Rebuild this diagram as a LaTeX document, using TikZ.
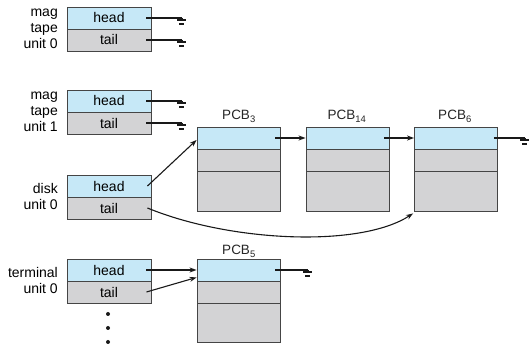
\documentclass[tikz,border=0pt]{standalone}
\usepackage{fontspec}
\setmainfont{Liberation Sans}
\usetikzlibrary{arrows.meta}
\definecolor{hblue}{HTML}{C6E8F7}
\definecolor{bgray}{HTML}{D3D3D5}
\definecolor{edgec}{HTML}{454545}
\begin{document}
\begin{tikzpicture}[x=1pt,y=-1pt,
  cell/.style={draw=edgec, line width=0.9pt, minimum width=84pt, minimum height=22pt, inner sep=0pt, font=\fontsize{14}{16}\selectfont},
  headc/.style={cell, fill=hblue},
  grayc/.style={cell, fill=bgray},
  pcell/.style={draw=edgec, line width=0.9pt, minimum width=83pt, inner sep=0pt},
  lbl/.style={anchor=east, align=right, inner sep=0pt, font=\fontsize{14}{16}\selectfont},
  wire/.style={line width=1.1pt, black!90},
  ptr/.style={wire, -{Stealth[length=7pt,width=5pt]}},
  gnd/.pic={\draw[line width=1.1pt, black!90] (0,0) -- (0,2) (-5,2) -- (4,2) (-3,6) -- (2,6);},
  pcbl/.style={anchor=base, inner sep=0pt, font=\fontsize{13.5}{15}\selectfont, text=black!85}
]
\useasboundingbox (0,0) rectangle (530,344);

% device queues
\node[headc] (t0h) at (109,18) {head};
\node[grayc] (t0t) at (109,40) {tail};
\node[headc] (t1h) at (109,101) {head};
\node[grayc] (t1t) at (109,123) {tail};
\node[headc] (dh) at (109,186) {head};
\node[grayc] (dt) at (109,208) {tail};
\node[headc] (th) at (109,270) {head};
\node[grayc] (tt) at (109,292) {tail};

\node[lbl] (l0) at (58,29) {mag\\tape\\unit 0};
\node[lbl] (l1) at (58,112) {mag\\tape\\unit 1};
\node[lbl] (l2) at (58,196.5) {disk\\unit 0};
\node[lbl] (l3) at (58,280.5) {terminal\\unit 0};

% PCBs
\node[pcell, fill=hblue, minimum height=22pt] (p3a) at (238.5,138) {};
\node[pcell, fill=bgray, minimum height=22pt] (p3b) at (238.5,160) {};
\node[pcell, fill=bgray, minimum height=40pt] (p3c) at (238.5,191) {};
\node[pcell, fill=hblue, minimum height=22pt] (p14a) at (347.5,138) {};
\node[pcell, fill=bgray, minimum height=22pt] (p14b) at (347.5,160) {};
\node[pcell, fill=bgray, minimum height=40pt] (p14c) at (347.5,191) {};
\node[pcell, fill=hblue, minimum height=22pt] (p6a) at (456,138) {};
\node[pcell, fill=bgray, minimum height=22pt] (p6b) at (456,160) {};
\node[pcell, fill=bgray, minimum height=40pt] (p6c) at (456,191) {};
\node[pcell, fill=hblue, minimum height=22pt] (p5a) at (238.5,270) {};
\node[pcell, fill=bgray, minimum height=22pt] (p5b) at (238.5,292) {};
\node[pcell, fill=bgray, minimum height=39pt] (p5c) at (238.5,322.5) {};

\node[pcbl] (n3) at (239,120) {PCB\textsubscript{3}};
\node[pcbl] (n14) at (347,120) {PCB\textsubscript{14}};
\node[pcbl] (n6) at (455,120) {PCB\textsubscript{6}};
\node[pcbl] (n5) at (239,255) {PCB\textsubscript{5}};

% ground ends
\coordinate (g0h) at (182,18);
\coordinate (g0t) at (182,40);
\coordinate (g1h) at (182,101);
\coordinate (g1t) at (182,123);
\coordinate (g6) at (525,138);
\coordinate (g5) at (308,270);

\draw[wire] ([xshift=-5pt]t0h.east) -- (g0h) pic{gnd};
\draw[wire] ([xshift=-5pt]t0t.east) -- (g0t) pic{gnd};
\draw[wire] ([xshift=-5pt]t1h.east) -- (g1h) pic{gnd};
\draw[wire] ([xshift=-5pt]t1t.east) -- (g1t) pic{gnd};
\draw[wire] ([xshift=-4pt]p6a.east) -- (g6) pic{gnd};
\draw[wire] ([xshift=-5pt]p5a.east) -- (g5) pic{gnd};

% pointers
\draw[ptr] ([xshift=-5pt]p3a.east) -- (p14a.west);
\draw[ptr] ([xshift=-5pt]p14a.east) -- (p6a.west);
\draw[ptr] ([xshift=-4pt]dh.east) -- ([yshift=-2pt]p3a.west);
\draw[ptr] ([xshift=-4pt]dt.east) .. controls (230,242) and (360,248) .. ([shift={(-1pt,-2pt)}]p6c.south west);
\draw[ptr] ([xshift=-5pt]th.east) -- (p5a.west);
\draw[ptr] ([xshift=-5pt]tt.east) -- ([yshift=4pt]p5a.south west);

% continuation dots
\fill[black!90] (108,314) circle (2pt) (108,328) circle (2pt) (108,342) circle (2pt);
\end{tikzpicture}
\end{document}
